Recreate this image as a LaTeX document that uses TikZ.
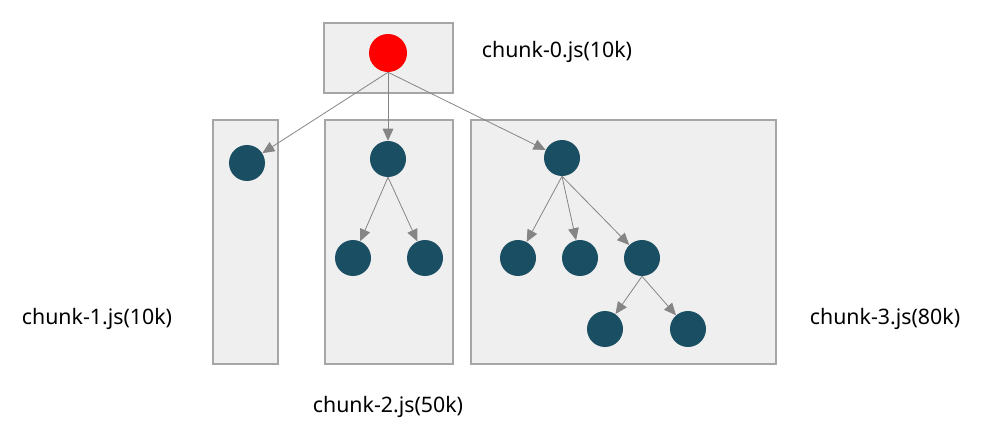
\documentclass[tikz,border=0pt]{standalone}
\usepackage{fontspec}
\setmainfont{Noto Sans}
\usetikzlibrary{arrows.meta}
\definecolor{boxgray}{HTML}{EFEFEF}
\definecolor{linegray}{HTML}{A6A6A6}
\definecolor{arrowgray}{HTML}{858585}
\definecolor{dot}{HTML}{1A4E63}
\tikzset{
  chunkbox/.style={draw=linegray,fill=boxgray,line width=0.8pt},
  leaf/.style={circle,fill=dot,minimum size=27pt,inner sep=0pt},
  entry/.style={circle,fill=red,minimum size=28.5pt,inner sep=0pt},
  dep/.style={draw=arrowgray,line width=0.6pt,-{Triangle[length=9pt,width=8pt]}},
  chunklabel/.style={font=\fontsize{16}{18}\selectfont}
}
\begin{document}
\begin{tikzpicture}[x=0.75pt,y=-0.75pt]
    \useasboundingbox (0,0) rectangle (990,428);
    %% chunks
    \draw[chunkbox] (324,23) rectangle (453,93);
    \draw[chunkbox] (213,120) rectangle (278,364);
    \draw[chunkbox] (325,120) rectangle (453,364);
    \draw[chunkbox] (471,120) rectangle (776,364);
    %% labels
    \node[chunklabel] (l0) at (557,52) {chunk-0.js(10k)};
    \node[chunklabel] (l1) at (97,319) {chunk-1.js(10k)};
    \node[chunklabel] (l2) at (388,407) {chunk-2.js(50k)};
    \node[chunklabel] (l3) at (885,319) {chunk-3.js(80k)};
    %% modules
    \node[entry] (m0) at (388,53) {};
    \node[leaf] (a) at (247,163) {};
    \node[leaf] (b) at (388,159) {};
    \node[leaf] (b1) at (353,258) {};
    \node[leaf] (b2) at (425,258) {};
    \node[leaf] (c) at (562,158) {};
    \node[leaf] (c1) at (518,258) {};
    \node[leaf] (c2) at (580,258) {};
    \node[leaf] (c3) at (642,258) {};
    \node[leaf] (c31) at (605,329) {};
    \node[leaf] (c32) at (688,329) {};
    %% imports
    \draw[dep] (m0.south) -- (a);
    \draw[dep] (m0.south) -- (b);
    \draw[dep] (m0.south) -- (c);
    \draw[dep] (b.south) -- (b1);
    \draw[dep] (b.south) -- (b2);
    \draw[dep] (c.south) -- (c1);
    \draw[dep] (c.south) -- (c2);
    \draw[dep] (c.south) -- (c3);
    \draw[dep] (c3.south) -- (c31);
    \draw[dep] (c3.south) -- (c32);
\end{tikzpicture}
\end{document}
